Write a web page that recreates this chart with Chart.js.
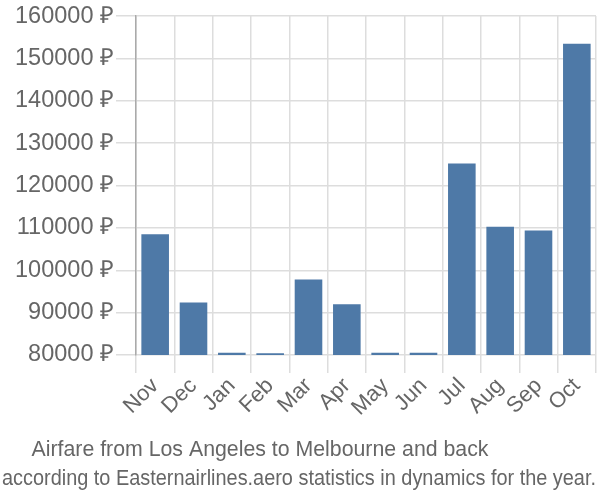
<!DOCTYPE html>
<html>
<head>
<meta charset="utf-8">
<script src="https://cdn.jsdelivr.net/npm/chart.js@4.4.1/dist/chart.umd.min.js"></script>
<style>
    html, body { margin: 0; padding: 0; background: #fff; }
    #wrap { width: 600px; height: 500px; }
</style>
</head>
<body>
<div id="wrap"><canvas id="fareChart" width="600" height="500"></canvas></div>
<script>
// Months as on the x axis (Nov .. Oct)
const months = ['Nov', 'Dec', 'Jan', 'Feb', 'Mar', 'Apr', 'May', 'Jun', 'Jul', 'Aug', 'Sep', 'Oct'];
// Average fare in roubles
const fares = [108500, 92400, 80500, 80400, 97800, 92000, 80500, 80500, 125200, 110300, 109400, 153500];
// Y axis range and step
const yMin = 80000;
const yMax = 160000;
const yStep = 10000;

const titleText = 'Airfare from Los Angeles to Melbourne and back';
const subtitleText = 'according to Easternairlines.aero statistics in dynamics for the year.';

const fontFamily = "'Liberation Sans', Arial, sans-serif";
const textColor = '#666';
const gridColor = '#ddd';

// The title in the picture sits a bit left of centre
const titleShift = {
    id: 'titleShift',
    afterLayout(chart) {
        if (chart.titleBlock) {
            chart.titleBlock.right -= 78;
        }
    }
};

document.addEventListener('DOMContentLoaded', function() {
    const ctx = document.getElementById('fareChart').getContext('2d');

    new Chart(ctx, {
        type: 'bar',
        data: {
            labels: months,
            datasets: [{
                data: fares,
                backgroundColor: '#4e79a7',
                borderWidth: 0
            }]
        },
        options: {
            responsive: false,
            animation: false,
            layout: {
                padding: { left: 2, right: 4, top: 2, bottom: 0 }
            },
            scales: {
                x: {
                    grid: {
                        color: gridColor,
                        lineWidth: 1.5,
                        tickLength: 18,
                        offset: true
                    },
                    border: { color: gridColor },
                    ticks: {
                        color: textColor,
                        font: { size: 22, family: fontFamily },
                        autoSkip: false,
                        maxRotation: 45,
                        minRotation: 45,
                        padding: 0
                    }
                },
                y: {
                    min: yMin,
                    max: yMax,
                    // keep the axis as wide as in the picture
                    afterFit: function(scale) {
                        scale.width = 134;
                    },
                    grid: {
                        color: gridColor,
                        lineWidth: 1.5,
                        tickLength: 20
                    },
                    border: { color: '#aaa', width: 1.5 },
                    ticks: {
                        stepSize: yStep,
                        color: textColor,
                        padding: 2,
                        font: { size: 23.5, family: fontFamily },
                        callback: function(value) {
                            return value + ' ₽';
                        }
                    }
                }
            },
            plugins: {
                legend: { display: false },
                tooltip: { enabled: false },
                title: {
                    display: true,
                    text: titleText,
                    position: 'bottom',
                    weight: 1000,
                    color: textColor,
                    font: { size: 21.3, family: fontFamily, weight: 'normal' },
                    padding: { top: 16, bottom: 3 }
                },
                subtitle: {
                    display: true,
                    text: subtitleText,
                    position: 'bottom',
                    weight: 2000,
                    color: textColor,
                    font: { size: 22, family: fontFamily, weight: 'normal' },
                    padding: { top: 0, bottom: 8 }
                }
            }
        },
        plugins: [titleShift]
    });
});
</script>
</body>
</html>
